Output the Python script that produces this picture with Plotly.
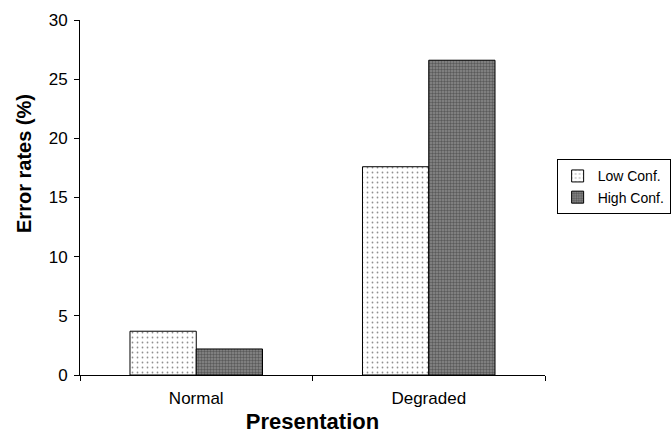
import plotly.graph_objects as go

# Error rates by presentation and confidence level
categories = ["Normal", "Degraded"]
low_conf = [3.7, 17.6]
high_conf = [2.2, 26.6]
series_names = ["Low Conf.", "High Conf."]
y_ticks = [0, 5, 10, 15, 20, 25, 30]
y_title = "Error rates (%)"
x_title = "Presentation"

font_family = "Liberation Sans, Arial, sans-serif"

fig = go.Figure()
fig.add_trace(go.Bar(
    x=categories, y=low_conf, name=series_names[0],
    marker=dict(
        color="white",
        line=dict(color="black", width=1),
        pattern=dict(shape=".", fgcolor="#222222", bgcolor="white",
                     size=5, solidity=0.1),
    ),
))
fig.add_trace(go.Bar(
    x=categories, y=high_conf, name=series_names[1],
    marker=dict(
        color="#7a7a7a",
        line=dict(color="black", width=1),
        pattern=dict(shape=".", fgcolor="#2a2a2a", bgcolor="#8a8a8a",
                     size=3, solidity=0.5),
    ),
))

fig.update_layout(
    width=671, height=434,
    margin=dict(l=80, r=126, t=20, b=59, autoexpand=False),
    paper_bgcolor="white", plot_bgcolor="white",
    barmode="group", bargap=0.43, bargroupgap=0,
    font=dict(family=font_family, size=17, color="black"),
    showlegend=True,
    legend=dict(
        x=1.025, xanchor="left", y=0.53, yanchor="middle",
        bordercolor="black", borderwidth=1, bgcolor="white",
        font=dict(size=14, family=font_family),
        itemwidth=30, tracegroupgap=0,
    ),
)
# Vertical axis title sits a little above the plot's midline
fig.add_annotation(
    text=f"<b>{y_title}</b>", textangle=-90, showarrow=False,
    xref="paper", yref="paper", x=-0.12, y=0.595,
    xanchor="center", yanchor="middle",
    font=dict(size=20, family=font_family, color="black"),
)
fig.update_xaxes(
    showline=True, linecolor="black", linewidth=1,
    ticks="outside", tickson="boundaries", ticklen=5, tickcolor="black",
    ticklabelstandoff=8, automargin=False,
    showgrid=False,
    title=dict(text=f"<b>{x_title}</b>", font=dict(size=22), standoff=13),
    tickfont=dict(size=17),
)
fig.update_yaxes(
    range=[0, 30], tickvals=y_ticks,
    showline=True, linecolor="black", linewidth=1,
    ticks="outside", ticklen=5, tickcolor="black",
    ticklabelstandoff=3, automargin=False,
    showgrid=False, zeroline=False,
    tickfont=dict(size=17),
)

fig.write_html("out.html")
